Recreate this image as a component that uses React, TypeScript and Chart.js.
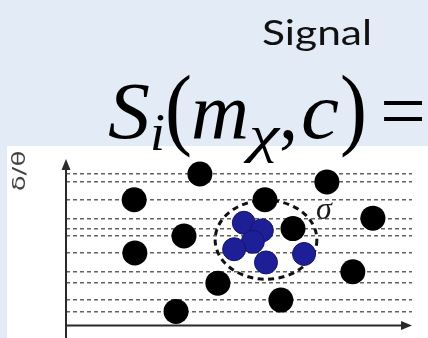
import React, { useEffect, useRef } from "react";
import { Chart, registerables } from "chart.js";

Chart.register(...registerables);

// Background events (black) and signal events (blue), in arbitrary plot units
const blackX = [3.87, 7.54, 1.97, 5.75, 8.87, 6.56, 3.41, 1.99, 8.29, 4.39, 6.21, 3.18];
const blackY = [8.94, 8.47, 7.42, 7.42, 6.33, 5.72, 5.28, 4.28, 3.17, 2.5, 1.5, 0.83];
const blueX = [5.14, 5.66, 5.4, 4.86, 5.78, 6.88];
const blueY = [6.06, 5.61, 4.94, 4.5, 3.72, 4.22];
// dashed horizontal levels (one through each background event)
const levelTicks = [8.94, 8.47, 7.42, 6.33, 5.72, 5.28, 4.28, 3.17, 2.5, 1.5, 0.83];
// signal region (ellipse) in plot units
const regionCenter = [5.78, 5.06];
const regionRadius = [1.47, 2.33];
const sigmaPos = [7.45, 6.8];
const sigmaText = "σ";
const yLabel = "δ/θ";
const titleText = "Signal";
// formula  S_i(m_χ, c) =
const formulaText = ["S", "i", "(", "m", "χ", ",", "c", ")", "="];

const SERIF = '"Liberation Serif", "DejaVu Serif", serif';
// typographic layout of each formula piece: [italic, size, baseline shift, left, advance]
const formulaStyle: [boolean, number, number, number, number][] = [
  [true, 80, 0, 108, 42],
  [true, 52, 12, 150, 15],
  [false, 92, 0, 165, 27],
  [true, 80, 0, 191, 58],
  [true, 52, 14, 249, 30],
  [false, 80, 0, 279, 19],
  [true, 80, 0, 301, 38],
  [false, 92, 0, 340, 27],
  [false, 80, 0, 380, 46],
];

const W = 428;
const H = 338;

const overlayPlugin = {
  id: "overlay",
  beforeDraw(chart: any) {
    const { ctx } = chart;
    ctx.save();
    ctx.fillStyle = "#e3ebf6";
    ctx.fillRect(0, 0, chart.width, chart.height);
    ctx.fillStyle = "#ffffff";
    ctx.fillRect(7, 146, chart.width - 7, chart.height - 146);
    ctx.restore();
  },
  beforeDatasetsDraw(chart: any) {
    const { ctx, scales } = chart;
    const xs = scales.x;
    const ys = scales.y;
    const cx = xs.getPixelForValue(regionCenter[0]);
    const cy = ys.getPixelForValue(regionCenter[1]);
    const rx = Math.abs(xs.getPixelForValue(regionCenter[0] + regionRadius[0]) - cx);
    const ry = Math.abs(ys.getPixelForValue(regionCenter[1] + regionRadius[1]) - cy);
    ctx.save();
    ctx.strokeStyle = "#111";
    ctx.lineWidth = 3;
    ctx.setLineDash([6, 4.5]);
    ctx.beginPath();
    ctx.ellipse(cx, cy, rx, ry, 0, 0, Math.PI * 2);
    ctx.stroke();
    ctx.restore();
  },
  afterDraw(chart: any) {
    const { ctx, chartArea, scales } = chart;
    const { left, right, top, bottom } = chartArea;
    ctx.save();
    ctx.strokeStyle = "#2a2a2a";
    ctx.fillStyle = "#2a2a2a";
    ctx.lineWidth = 2;
    // y axis with arrow
    const tipY = top + 3;
    ctx.beginPath();
    ctx.moveTo(left, chart.height);
    ctx.lineTo(left, tipY + 8);
    ctx.stroke();
    ctx.beginPath();
    ctx.moveTo(left, tipY);
    ctx.lineTo(left - 4.5, tipY + 11);
    ctx.lineTo(left + 4.5, tipY + 11);
    ctx.closePath();
    ctx.fill();
    // x axis with arrow
    ctx.beginPath();
    ctx.moveTo(left, bottom);
    ctx.lineTo(right - 8, bottom);
    ctx.stroke();
    ctx.beginPath();
    ctx.moveTo(right, bottom);
    ctx.lineTo(right - 11, bottom - 4.5);
    ctx.lineTo(right - 11, bottom + 4.5);
    ctx.closePath();
    ctx.fill();

    // sigma label
    ctx.fillStyle = "#1a1a1a";
    ctx.font = "italic 32px " + SERIF;
    ctx.textAlign = "center";
    ctx.textBaseline = "middle";
    ctx.fillText(sigmaText, scales.x.getPixelForValue(sigmaPos[0]), scales.y.getPixelForValue(sigmaPos[1]));

    // y axis label (rotated)
    ctx.save();
    ctx.font = '26px "DejaVu Sans"';
    ctx.fillStyle = "#444";
    ctx.translate(21, 171);
    ctx.rotate(-Math.PI / 2);
    ctx.scale(1, 0.65);
    ctx.textAlign = "center";
    ctx.textBaseline = "middle";
    ctx.fillText(yLabel, 0, 0);
    ctx.restore();

    // title "Signal"
    ctx.save();
    ctx.font = "34px Lato";
    ctx.fillStyle = "#111";
    ctx.textAlign = "left";
    ctx.textBaseline = "alphabetic";
    const tw = ctx.measureText(titleText).width;
    ctx.translate(262, 45);
    ctx.scale(110 / tw, 1);
    ctx.fillText(titleText, 0, 0);
    ctx.restore();

    // formula
    ctx.fillStyle = "#000";
    ctx.textAlign = "left";
    ctx.textBaseline = "alphabetic";
    formulaText.forEach((t, i) => {
      const [italic, size, dy, x0, adv] = formulaStyle[i];
      ctx.font = (italic ? "italic " : "") + size + "px " + SERIF;
      const m = ctx.measureText(t).width;
      ctx.save();
      ctx.translate(x0, 138 + dy);
      ctx.scale(adv / m, 1);
      ctx.fillText(t, 0, 0);
      ctx.restore();
    });
    ctx.restore();
  },
};

export default function App() {
  const ref = useRef<HTMLCanvasElement | null>(null);
  useEffect(() => {
    if (!ref.current) return;
    const chart = new Chart(ref.current, {
      type: "scatter",
      data: {
        datasets: [
          {
            label: "signal",
            data: blueX.map((x, i) => ({ x, y: blueY[i] })),
            backgroundColor: "#1e1e96",
            borderColor: "#14146e",
            borderWidth: 1,
            pointRadius: 11.5,
            pointHoverRadius: 11.5,
          },
          {
            label: "background",
            data: blackX.map((x, i) => ({ x, y: blackY[i] })),
            backgroundColor: "#000",
            borderWidth: 0,
            pointRadius: 12.5,
            pointHoverRadius: 12.5,
          },
        ],
      },
      options: {
        animation: false,
        responsive: false,
        devicePixelRatio: 1,
        events: [],
        layout: { padding: { left: 66, right: 16, top: 156, bottom: 2 } },
        plugins: { legend: { display: false }, tooltip: { enabled: false } },
        scales: {
          x: { type: "linear", min: 0, max: 10, display: false },
          y: {
            type: "linear",
            min: 0,
            max: 10,
            ticks: { display: false },
            afterBuildTicks: (s: any) => {
              s.ticks = levelTicks.map((v) => ({ value: v }));
            },
            grid: { color: "rgba(80,80,80,0.9)", lineWidth: 1.4, drawTicks: false },
            border: { display: false, dash: [4, 3] },
          },
        },
      },
      plugins: [overlayPlugin],
    });
    return () => chart.destroy();
  }, []);
  return (
    <div style={{ position: "fixed", left: 0, top: 0, width: W, height: H, overflow: "hidden" }}>
      <canvas ref={ref} width={W} height={H} style={{ display: "block", width: W, height: H }} />
    </div>
  );
}
